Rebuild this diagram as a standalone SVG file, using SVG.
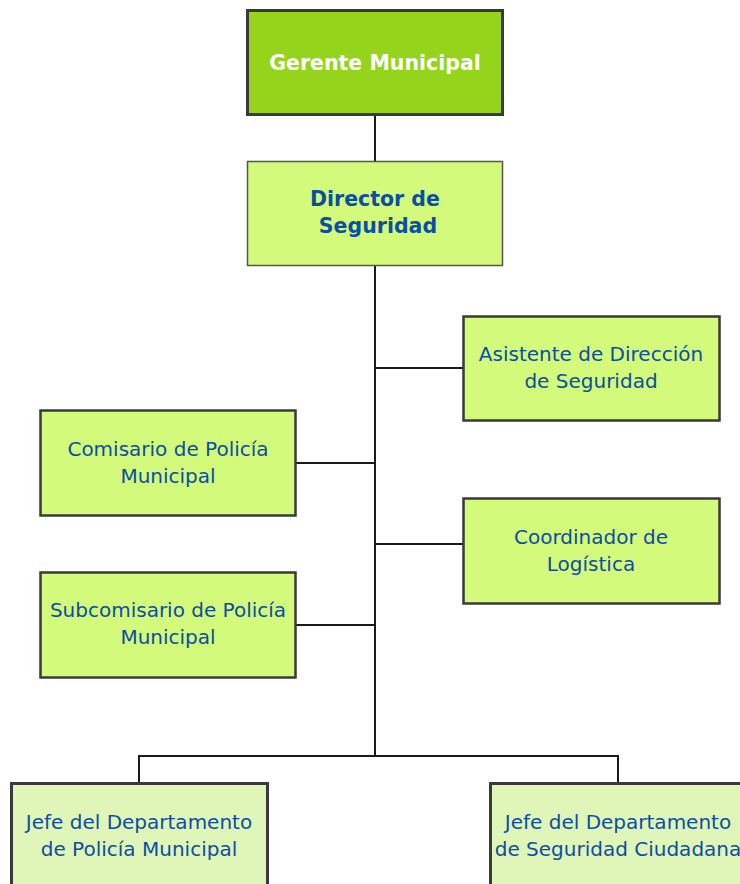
<svg xmlns="http://www.w3.org/2000/svg" width="740" height="884" viewBox="0 0 740 884">
<style>
.box{fill:#d3fa7a;stroke:#3a3a3a;stroke-width:2.5}
.top{fill:#94d41a;stroke:#3a3a3a;stroke-width:3}
.low{fill:#e0f5b8;stroke:#3a3a3a;stroke-width:3}
.t{font-family:"DejaVu Sans",Verdana,sans-serif;font-size:20px;fill:#0a4fa3;text-anchor:middle}
.b{font-weight:bold;font-size:20.5px}
.w{fill:#ffffff}
.c{fill:none;stroke:#1a1a1a;stroke-width:2}
</style>
<rect width="740" height="884" fill="#ffffff"/>
<g id="connectors">
<line class="c" x1="375" y1="115" x2="375" y2="161"/>
<line class="c" x1="375" y1="266" x2="375" y2="756"/>
<line class="c" x1="375" y1="368" x2="463" y2="368"/>
<line class="c" x1="296" y1="463" x2="375" y2="463"/>
<line class="c" x1="375" y1="544" x2="463" y2="544"/>
<line class="c" x1="296" y1="625" x2="375" y2="625"/>
<polyline class="c" points="139,783 139,756 618,756 618,783"/>
</g>
<g id="gerente">
<rect class="top" x="247.5" y="10.5" width="255" height="104"/>
<text class="t b w" x="375" y="70">Gerente Municipal</text>
</g>
<g id="director">
<rect class="box" x="247.5" y="161.5" width="255" height="104" style="stroke-width:1.5;stroke:#555"/>
<text class="t b" x="375" y="206">Director de</text>
<text class="t b" x="378" y="233">Seguridad</text>
</g>
<g id="asistente">
<rect class="box" x="463.5" y="316.5" width="256" height="104"/>
<text class="t" x="591" y="361">Asistente de Dirección</text>
<text class="t" x="591" y="388">de Seguridad</text>
</g>
<g id="comisario">
<rect class="box" x="40.5" y="410.5" width="255" height="105"/>
<text class="t" x="168" y="456">Comisario de Policía</text>
<text class="t" x="168" y="483">Municipal</text>
</g>
<g id="coordinador">
<rect class="box" x="463.5" y="498.5" width="256" height="105"/>
<text class="t" x="591" y="544">Coordinador de</text>
<text class="t" x="591" y="571">Logística</text>
</g>
<g id="subcomisario">
<rect class="box" x="40.5" y="572.5" width="255" height="105"/>
<text class="t" x="168" y="617">Subcomisario de Policía</text>
<text class="t" x="168" y="644">Municipal</text>
</g>
<g id="jefe-policia">
<rect class="low" x="11.5" y="783.5" width="256" height="110"/>
<text class="t" x="139" y="829">Jefe del Departamento</text>
<text class="t" x="139" y="856">de Policía Municipal</text>
</g>
<g id="jefe-seguridad">
<rect class="low" x="490.5" y="783.5" width="256" height="110"/>
<text class="t" x="618" y="829">Jefe del Departamento</text>
<text class="t" x="618" y="856">de Seguridad Ciudadana</text>
</g>
</svg>
